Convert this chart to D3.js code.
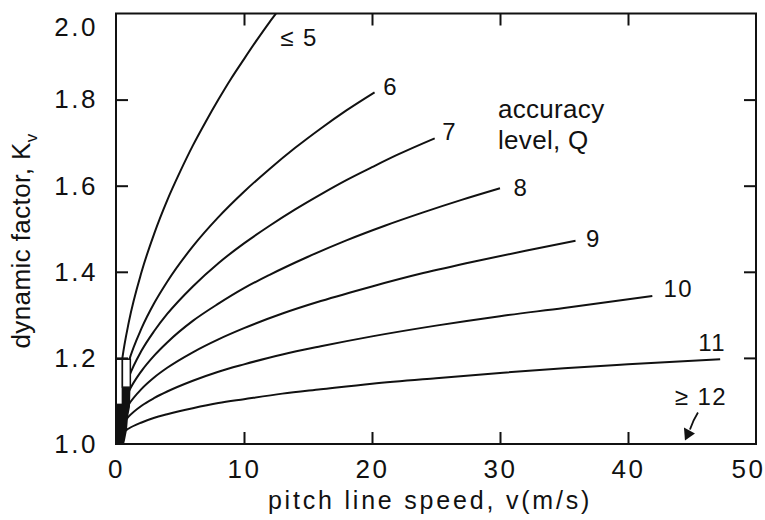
<!DOCTYPE html>
<html>
<head>
<meta charset="utf-8">
<script src="https://cdn.jsdelivr.net/npm/d3@7"></script>
<style>
  html, body { margin: 0; padding: 0; background: #fff; }
  svg { display: block; }
  text { font-family: "Liberation Sans", Arial, Helvetica, sans-serif; fill: #111; }
</style>
</head>
<body>
<svg id="chart" width="765" height="520"></svg>
<script>
// Dynamic factor Kv against pitch line speed for each gear accuracy level Q.
// Each series is a list of [speed (m/s), Kv] points.
const levelLabels = ["\u2264 5", "6", "7", "8", "9", "10", "11"];

const kvQ5 = [[0,1.000],[0.1,1.089],[0.25,1.141],[0.5,1.200],[1,1.283],[2,1.400],[3,1.490],[4,1.566],[5,1.632],[6,1.693],[7,1.748],[8,1.800],[9,1.849],[10,1.894],[11,1.938],[12,1.980],[12.5,2.000]];
const kvQ6 = [[0,1.000],[0.1,1.061],[0.5,1.136],[1,1.192],[2,1.269],[3,1.328],[4,1.377],[6,1.459],[8,1.527],[10,1.586],[12,1.639],[14,1.688],[16,1.733],[18,1.775],[20.2,1.817]];
const kvQ7 = [[0,1.000],[0.1,1.050],[0.5,1.110],[1,1.155],[2,1.217],[3,1.263],[4,1.302],[6,1.366],[8,1.420],[10,1.466],[12,1.507],[14,1.545],[16,1.580],[18,1.613],[20,1.643],[22,1.672],[24.9,1.710]];
const kvQ8 = [[0,1.000],[0.1,1.039],[0.5,1.087],[1,1.122],[2,1.170],[3,1.206],[4,1.236],[6,1.286],[8,1.326],[10,1.362],[12,1.393],[15,1.435],[18,1.473],[21,1.507],[24,1.538],[27,1.567],[30,1.594]];
const kvQ9 = [[0,1.000],[0.1,1.030],[0.5,1.066],[1,1.092],[2,1.128],[3,1.155],[4,1.177],[6,1.213],[8,1.243],[10,1.269],[13,1.303],[16,1.332],[20,1.366],[24,1.397],[28,1.424],[32,1.449],[35.9,1.472]];
const kvQ10 = [[0,1.000],[0.1,1.021],[0.5,1.046],[1,1.064],[2,1.089],[3,1.107],[4,1.122],[6,1.147],[8,1.168],[10,1.185],[13,1.208],[16,1.227],[20,1.250],[25,1.275],[30,1.297],[35,1.316],[41.9,1.344]];
const kvQ11 = [[0,1.000],[0.1,1.012],[0.5,1.026],[1,1.036],[2,1.050],[3,1.061],[4,1.069],[6,1.083],[8,1.095],[10,1.104],[13,1.117],[16,1.127],[20,1.140],[25,1.153],[30,1.165],[35,1.176],[40,1.185],[47.2,1.197]];

const series = [kvQ5, kvQ6, kvQ7, kvQ8, kvQ9, kvQ10, kvQ11];

// Q >= 12 stays at Kv = 1.0; marked with an arrow onto the axis.
const topLevelLabel = "\u2265 12";
const topLevelPoint = [44.45, 1.008];

const xTicks = [0, 10, 20, 30, 40, 50];
const yTicks = [1.0, 1.2, 1.4, 1.6, 1.8, 2.0];

const xTitle = "pitch line speed, v(m/s)";
const yTitle = "dynamic factor, K";
const yTitleSub = "v";
const noteLines = ["accuracy", "level, Q"];

// ---- layout ----
const svg = d3.select("#chart");
const plot = { left: 116, right: 756, top: 13.5, bottom: 444 };

const x = d3.scaleLinear().domain([0, 50]).range([plot.left, plot.right]);
const y = d3.scaleLinear().domain([1, 2]).range([plot.bottom, plot.top]);

const tickLen = 12;
const fmtY = d3.format(".1f");

// Curves
const line = d3.line()
  .x(d => x(d[0]))
  .y(d => y(d[1]))
  .curve(d3.curveMonotoneX);

svg.append("g")
  .selectAll("path")
  .data(series)
  .join("path")
  .attr("d", line)
  .attr("fill", "none")
  .attr("stroke", "#111")
  .attr("stroke-width", 2)
  .attr("stroke-linejoin", "round");

// Dense overlap of the curves right at the origin
const originBlob = [[0,1.0],[0,1.092],[0.5,1.092],[0.5,1.132],[1.13,1.132],[1.09,1.086],[0.94,1.063],[0.86,1.033],[0.70,1.009],[0.63,1.0]];
svg.append("path")
  .attr("d", d3.line().x(d => x(d[0])).y(d => y(d[1]))(originBlob) + "Z")
  .attr("fill", "#111");

// Small open boxes sitting over the curves just above the origin
const originBoxes = [[0, 0.5, 1.092, 1.197], [0.5, 1.12, 1.132, 1.197]];
svg.append("g")
  .selectAll("rect")
  .data(originBoxes)
  .join("rect")
  .attr("x", d => x(d[0]))
  .attr("width", d => x(d[1]) - x(d[0]))
  .attr("y", d => y(d[3]))
  .attr("height", d => y(d[2]) - y(d[3]))
  .attr("fill", "#fff")
  .attr("stroke", "#111")
  .attr("stroke-width", 1.5);

// Frame
svg.append("rect")
  .attr("x", plot.left).attr("y", plot.top)
  .attr("width", plot.right - plot.left)
  .attr("height", plot.bottom - plot.top)
  .attr("fill", "none")
  .attr("stroke", "#111")
  .attr("stroke-width", 2);

// Axes with inward ticks on all four sides
function styleAxis(g) {
  g.select(".domain").remove();
  g.selectAll(".tick line").attr("stroke", "#111").attr("stroke-width", 2);
  g.selectAll(".tick text")
    .attr("fill", "#111")
    .style("font-family", "'Liberation Sans', Arial, sans-serif")
    .style("font-size", "26px")
    .style("letter-spacing", "2.5px");
}

const innerX = xTicks.filter(v => v > 0 && v < 50);
const innerY = yTicks.filter(v => v > 1 && v < 2);

const bottomAxis = svg.append("g")
  .attr("transform", `translate(0,${plot.bottom})`)
  .call(d3.axisBottom(x).tickValues(xTicks).tickSizeInner(-tickLen).tickSizeOuter(0).tickPadding(16).tickFormat(d3.format("d")))
  .call(styleAxis);
bottomAxis.selectAll(".tick").filter(d => d === 0 || d === 50).select("line").remove();
bottomAxis.selectAll(".tick").filter(d => d === 50).select("text").attr("text-anchor", "end").attr("dx", 9);

const leftAxis = svg.append("g")
  .attr("transform", `translate(${plot.left},0)`)
  .call(d3.axisLeft(y).tickValues(yTicks).tickSizeInner(-tickLen).tickSizeOuter(0).tickPadding(18).tickFormat(fmtY))
  .call(styleAxis);
leftAxis.selectAll(".tick").filter(d => d === 1 || d === 2).select("line").remove();
leftAxis.selectAll(".tick").filter(d => d === 2).select("text").attr("dy", "0.85em");

svg.append("g")
  .attr("transform", `translate(0,${plot.top})`)
  .call(d3.axisTop(x).tickValues(innerX).tickSizeInner(-tickLen).tickSizeOuter(0).tickFormat(""))
  .call(styleAxis);

svg.append("g")
  .attr("transform", `translate(${plot.right},0)`)
  .call(d3.axisRight(y).tickValues(innerY).tickSizeInner(-tickLen).tickSizeOuter(0).tickFormat(""))
  .call(styleAxis);

// Curve labels, placed off each curve's end point
const labelOffsets = [[23, 24], [16, -6], [15, -7], [21, -1], [18, -2], [26, -7], [-8, -17]];
svg.append("g")
  .selectAll("text")
  .data(series)
  .join("text")
  .attr("x", (d, i) => x(d[d.length - 1][0]) + labelOffsets[i][0])
  .attr("y", (d, i) => y(d[d.length - 1][1]) + labelOffsets[i][1])
  .attr("dy", "0.35em")
  .attr("text-anchor", "middle")
  .style("font-size", "24px")
  .style("letter-spacing", "1.5px")
  .text((d, i) => levelLabels[i]);

// ">= 12" label with its arrow down to Kv = 1
const tip = [x(topLevelPoint[0]), y(topLevelPoint[1])];
svg.append("text")
  .attr("x", tip[0] + 16)
  .attr("y", tip[1] - 44)
  .attr("dy", "0.35em")
  .attr("text-anchor", "middle")
  .style("font-size", "24px")
  .style("letter-spacing", "1.5px")
  .text(topLevelLabel);

const tail = [tip[0] + 13, tip[1] - 28];
const neck = [tip[0] + 5, tip[1] - 11];
svg.append("path")
  .attr("d", `M${tail[0]},${tail[1]} Q${tip[0] + 8},${tip[1] - 20} ${neck[0]},${neck[1]}`)
  .attr("fill", "none")
  .attr("stroke", "#111")
  .attr("stroke-width", 1.8);
svg.append("path")
  .attr("d", `M${tip[0]},${tip[1]} L${tip[0] - 1},${tip[1] - 13} L${tip[0] + 10},${tip[1] - 7} Z`)
  .attr("fill", "#111");

// Note text
svg.append("g")
  .selectAll("text")
  .data(noteLines)
  .join("text")
  .attr("x", 498)
  .attr("y", (d, i) => 118 + i * 31)
  .style("font-size", "26px")
  .style("letter-spacing", "0.3px")
  .text(d => d);

// Axis titles
svg.append("text")
  .attr("x", (plot.left + plot.right) / 2 - 6)
  .attr("y", 509)
  .attr("text-anchor", "middle")
  .style("font-size", "25px")
  .style("letter-spacing", "2.8px")
  .text(xTitle);

const yt = svg.append("text")
  .attr("transform", "translate(30,241) rotate(-90)")
  .attr("text-anchor", "middle")
  .style("font-size", "26px")
  .style("letter-spacing", "0.4px");
yt.append("tspan").text(yTitle);
yt.append("tspan").attr("dy", 7).style("font-size", "17px").text(yTitleSub);
</script>
</body>
</html>
